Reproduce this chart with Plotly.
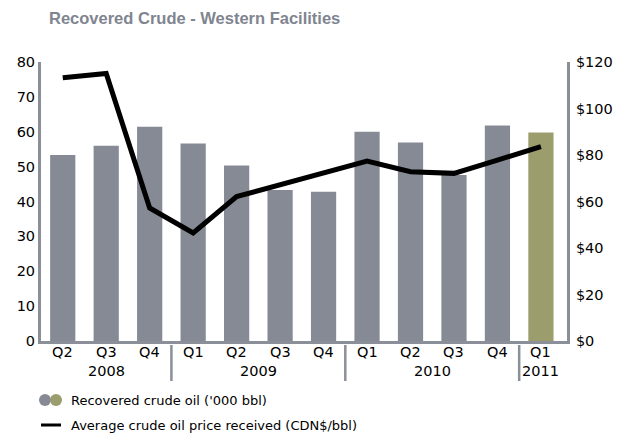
import plotly.graph_objects as go

years = ["2008", "2008", "2008", "2009", "2009", "2009", "2009",
         "2010", "2010", "2010", "2010", "2011"]
quarters = ["Q2", "Q3", "Q4", "Q1", "Q2", "Q3", "Q4",
            "Q1", "Q2", "Q3", "Q4", "Q1"]
recovered_crude = [53.3, 56.0, 61.4, 56.6, 50.3, 43.3, 42.8, 60.0, 56.9, 47.6, 61.8, 59.8]
oil_price = [113.2, 115.1, 57.2, 46.5, 62.1, 67.1, 72.4, 77.4, 72.8, 72.1, 77.8, 83.6]
year_labels = ["2008", "2009", "2010", "2011"]

GRAY = "#858a94"
OLIVE = "#9b9d6d"
AXIS = "#8a8f99"
bar_colors = [GRAY] * (len(recovered_crude) - 1) + [OLIVE]
categories = [f"{q} {y}" for q, y in zip(quarters, years)]

# page body has an 8px margin: work in reference pixels, shift by OFF
OFF = 8
W, H = 631 - OFF, 445 - OFF
PL, PR, PT, PB = 41, 567, 62, 341        # plot box in reference pixels
L, R, T, B = PL - OFF, W - (PR - OFF), PT - OFF, H - (PB - OFF)
FONT = "DejaVu Sans"

fig = go.Figure()
fig.add_trace(go.Bar(
    x=categories, y=recovered_crude,
    marker=dict(color=bar_colors, line=dict(width=0)),
    name="Recovered crude oil ('000 bbl)", showlegend=False,
))
fig.add_trace(go.Scatter(
    x=categories, y=oil_price, yaxis="y2", mode="lines",
    line=dict(color="black", width=5),
    name="Average crude oil price received (CDN$/bbl)", showlegend=False,
))

def px(x):
    return (x - PL) / (PR - PL)
def py(y):
    return (PB - y) / (PB - PT)

shapes = [
    dict(type="circle", xref="paper", yref="paper",
         x0=px(39), x1=px(51), y0=py(394), y1=py(406),
         fillcolor=GRAY, line=dict(width=0)),
    dict(type="circle", xref="paper", yref="paper",
         x0=px(50), x1=px(62), y0=py(394), y1=py(406),
         fillcolor=OLIVE, line=dict(width=0)),
    dict(type="line", xref="paper", yref="paper",
         x0=px(41), x1=px(61), y0=py(425), y1=py(425),
         line=dict(color="black", width=3)),
]
annotations = []
for i, q in enumerate(quarters):
    annotations.append(dict(
        text=q, xref="x", yref="paper", x=i, y=py(352),
        xanchor="center", yanchor="middle", showarrow=False,
        font=dict(family=FONT, size=14.5, color="black")))
start = 0
for yl in year_labels:
    n = years.count(yl)
    end = start + n - 1
    annotations.append(dict(
        text=yl, xref="x", yref="paper", x=(start + end) / 2, y=py(371),
        xanchor="center", yanchor="middle", showarrow=False,
        font=dict(family=FONT, size=14.5, color="black")))
    if start > 0:
        shapes.append(dict(type="line", xref="x", yref="paper",
                           x0=start - 0.5, x1=start - 0.5, y0=py(345), y1=py(381),
                           line=dict(color=AXIS, width=2.5)))
    start += n

annotations += [
    dict(text="Recovered crude oil ('000 bbl)", xref="paper", yref="paper",
         x=px(69), y=py(400), xanchor="left", yanchor="middle", showarrow=False,
         font=dict(family=FONT, size=13, color="black")),
    dict(text="Average crude oil price received (CDN$/bbl)", xref="paper", yref="paper",
         x=px(69), y=py(425), xanchor="left", yanchor="middle", showarrow=False,
         font=dict(family=FONT, size=13, color="black")),
]

fig.update_layout(
    width=W, height=H,
    margin=dict(l=L, r=R, t=T, b=B, pad=0, autoexpand=False),
    paper_bgcolor="white", plot_bgcolor="white",
    bargap=0.42,
    title=dict(text="<b>Recovered Crude - Western Facilities</b>",
               x=(49 - OFF) / W, xref="container", xanchor="left",
               y=1 - (18 - OFF) / H, yref="container", yanchor="middle",
               font=dict(family="Liberation Sans", size=16.5, color="#7f8590")),
    xaxis=dict(type="category", range=[-0.5, 11.6], automargin=False,
               showticklabels=False,
               showline=True, linecolor=AXIS, linewidth=3,
               showgrid=False, ticks=""),
    yaxis=dict(range=[0, 80], dtick=10, showline=True, linecolor=AXIS, linewidth=3,
               automargin=False, showgrid=False, zeroline=False, ticks="",
               tickfont=dict(family=FONT, size=14.5, color="black")),
    yaxis2=dict(range=[0, 120], dtick=20, tickprefix="$", overlaying="y", side="right",
                automargin=False, showline=True, linecolor=AXIS, linewidth=3,
                showgrid=False, zeroline=False, ticks="", ticklabelstandoff=3,
                tickfont=dict(family=FONT, size=14.5, color="black")),
    shapes=shapes, annotations=annotations,
    showlegend=False,
)

fig.write_html("out.html")
